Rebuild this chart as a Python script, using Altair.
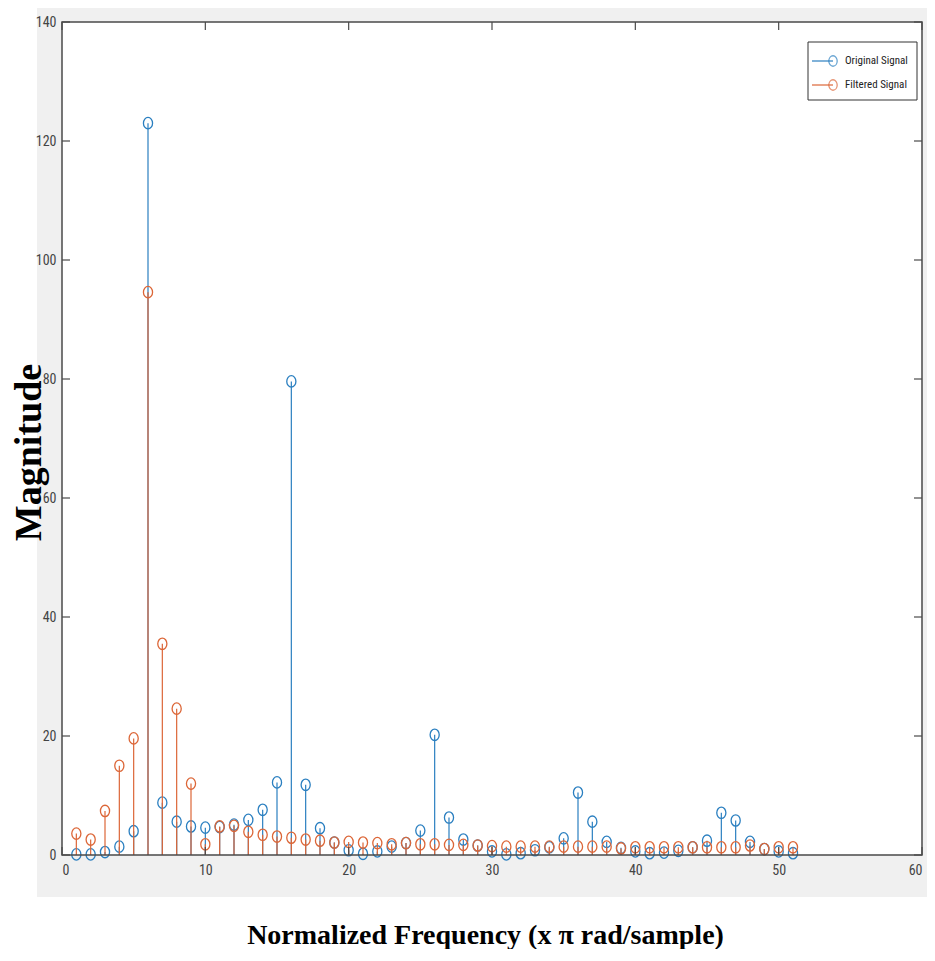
import altair as alt
import pandas as pd

freq = list(range(1, 52))
original = [0.1, 0.1, 0.5, 1.4, 4.0, 123.0, 8.8, 5.6, 4.8, 4.6,
            4.7, 5.1, 5.9, 7.6, 12.2, 79.6, 11.8, 4.5, 2.1, 0.8,
            0.2, 0.6, 1.4, 2.0, 4.1, 20.2, 6.3, 2.6, 1.6, 0.6,
            0.1, 0.3, 0.8, 1.3, 2.8, 10.5, 5.6, 2.2, 1.2, 0.6,
            0.3, 0.4, 0.7, 1.3, 2.4, 7.1, 5.8, 2.2, 1.0, 0.6, 0.3]
filtered = [3.6, 2.6, 7.4, 15.0, 19.6, 94.6, 35.5, 24.6, 12.0, 1.8,
            4.8, 4.9, 3.9, 3.4, 3.1, 2.9, 2.6, 2.4, 2.1, 2.2,
            2.1, 2.0, 1.8, 2.0, 1.8, 1.8, 1.7, 1.7, 1.6, 1.5,
            1.4, 1.4, 1.4, 1.4, 1.4, 1.4, 1.4, 1.4, 1.1, 1.3,
            1.3, 1.3, 1.3, 1.3, 1.3, 1.3, 1.3, 1.6, 1.0, 1.3, 1.3]
x_ticks = [0, 10, 20, 30, 40, 50, 60]
y_ticks = [0, 20, 40, 60, 80, 100, 120, 140]
series_names = ["Original Signal", "Filtered Signal"]
series_colors = ["#2a7fc0", "#dc6637"]

W, H = 860, 833
AXIS_COLOR = "#4a4a4a"
NARROW = "Liberation Sans Narrow, Arial Narrow, Roboto Condensed, sans-serif"
SERIF = "Liberation Serif, Times New Roman, serif"
ELLIPSE = "M -0.8 0 A 0.8 1 0 1 1 0.8 0 A 0.8 1 0 1 1 -0.8 0 Z"

df_o = pd.DataFrame({"x": freq, "y": original})
df_f = pd.DataFrame({"x": freq, "y": filtered})
df_xt = pd.DataFrame({"x": x_ticks})
df_yt = pd.DataFrame({"y": y_ticks})
one = pd.DataFrame({"a": [0]})

x_enc = alt.X(
    "x:Q",
    scale=alt.Scale(domain=[0, 60], nice=False, zero=False),
    axis=alt.Axis(
        values=x_ticks, ticks=False, domain=False, grid=False, zindex=2,
        labelFont=NARROW, labelFontSize=14, labelColor="#444444", labelPadding=8,
        title="Normalized Frequency (x π rad/sample)",
        titleFont=SERIF, titleFontWeight="bold", titleFontSize=28, titleColor="black",
        titleX=423, titleY=80, titleAlign="center", titleBaseline="middle",
    ),
)
y_enc = alt.Y(
    "y:Q",
    scale=alt.Scale(domain=[0, 140], nice=False),
    axis=alt.Axis(
        values=y_ticks, ticks=False, domain=False, grid=False, zindex=2,
        labelFont=NARROW, labelFontSize=14, labelColor="#444444", labelPadding=6,
        title="Magnitude",
        titleFont=SERIF, titleFontWeight="bold", titleFontSize=38, titleColor="black",
        titleX=-33, titleY=430, titleAngle=270, titleAlign="center", titleBaseline="middle",
    ),
)

gray_bg = alt.Chart(one).mark_rect(fill="#f0f0f0").encode(
    x=alt.value(-25), x2=alt.value(W + 5), y=alt.value(-14), y2=alt.value(H + 42))
white_bg = alt.Chart(one).mark_rect(fill="white").encode(
    x=alt.value(0), x2=alt.value(W), y=alt.value(0), y2=alt.value(H))


def stems(df, color):
    rule = alt.Chart(df).mark_rule(color=color, strokeWidth=1.2).encode(
        x=x_enc, y=y_enc, y2=alt.datum(0))
    pts = alt.Chart(df).mark_point(shape=ELLIPSE, size=130, filled=False,
                                   color=color, strokeWidth=1.3, opacity=1).encode(
        x=x_enc, y=y_enc)
    return rule + pts


frame = alt.Chart(one).mark_rect(fill=None, stroke=AXIS_COLOR, strokeWidth=1.5).encode(
    x=alt.value(0), x2=alt.value(W), y=alt.value(0), y2=alt.value(H))

tick_style = dict(color=AXIS_COLOR, strokeWidth=1.2)
tb = alt.Chart(df_xt).mark_rule(**tick_style).encode(x=x_enc, y=alt.value(H), y2=alt.value(H - 8))
tt = alt.Chart(df_xt).mark_rule(**tick_style).encode(x=x_enc, y=alt.value(0), y2=alt.value(8))
tl = alt.Chart(df_yt).mark_rule(**tick_style).encode(y=y_enc, x=alt.value(0), x2=alt.value(8))
tr = alt.Chart(df_yt).mark_rule(**tick_style).encode(y=y_enc, x=alt.value(W), x2=alt.value(W - 8))

# legend
LX0, LX1, LY0, LY1 = 746, 855, 20, 78
legend_layers = [alt.Chart(one).mark_rect(fill="white", stroke="#333333", strokeWidth=1).encode(
    x=alt.value(LX0), x2=alt.value(LX1), y=alt.value(LY0), y2=alt.value(LY1))]
for i, (name, color) in enumerate(zip(series_names, series_colors)):
    yy = 39 + i * 24
    ldf = pd.DataFrame({"label": [name]})
    legend_layers.append(alt.Chart(ldf).mark_rule(color=color, strokeWidth=1.2).encode(
        x=alt.value(750), x2=alt.value(771), y=alt.value(yy)))
    legend_layers.append(alt.Chart(ldf).mark_point(shape=ELLIPSE, size=110, filled=False,
                                                   color=color, strokeWidth=1.3).encode(
        x=alt.value(771), y=alt.value(yy)))
    legend_layers.append(alt.Chart(ldf).mark_text(align="left", baseline="middle", font=NARROW,
                                                  fontSize=11, color="#222222").encode(
        x=alt.value(783), y=alt.value(yy), text="label:N"))

chart = alt.layer(
    gray_bg, white_bg,
    stems(df_o, series_colors[0]),
    stems(df_f, series_colors[1]),
    frame, tb, tt, tl, tr,
    *legend_layers,
).properties(
    width=W, height=H,
    autosize=alt.AutoSizeParams(type="none"),
    padding={"left": 54, "top": 14, "right": 5, "bottom": 94},
    background="white",
).configure_view(stroke=None)

chart.save("out.html", embed_options={"renderer": "svg", "actions": False})
